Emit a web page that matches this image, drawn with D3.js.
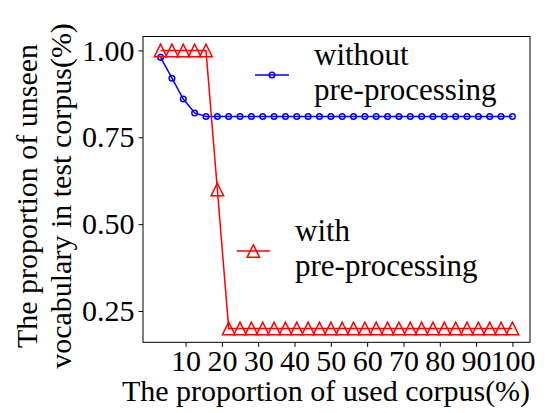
<!DOCTYPE html>
<html>
<head>
<meta charset="utf-8">
<script src="https://cdn.jsdelivr.net/npm/d3@7"></script>
<style>
  html, body { margin: 0; padding: 0; background: #fff; }
  svg { display: block; }
  text { font-family: "Liberation Serif", "Times New Roman", serif; fill: #000; }
</style>
</head>
<body>
<svg id="chart" width="554" height="413"></svg>
<script>
// ---- data ----
const xValues = d3.range(1, 33).map(k => 100 * k / 32); // 32 corpus proportions
const withoutPre = [0.98, 0.92, 0.86, 0.82, 0.81, 0.81, 0.81, 0.81, 0.81, 0.81, 0.81, 0.81, 0.81, 0.81, 0.81, 0.81,
                    0.81, 0.81, 0.81, 0.81, 0.81, 0.81, 0.81, 0.81, 0.81, 0.81, 0.81, 0.81, 0.81, 0.81, 0.81, 0.81];
const withPre = [1.0, 1.0, 1.0, 1.0, 1.0, 0.6, 0.2, 0.2, 0.2, 0.2, 0.2, 0.2, 0.2, 0.2, 0.2, 0.2,
                 0.2, 0.2, 0.2, 0.2, 0.2, 0.2, 0.2, 0.2, 0.2, 0.2, 0.2, 0.2, 0.2, 0.2, 0.2, 0.2];
const xTicks = [10, 20, 30, 40, 50, 60, 70, 80, 90, 100];
const yTicks = [0.25, 0.50, 0.75, 1.00];
const seriesNames = ["without\npre-processing", "with\npre-processing"];
const xLabel = "The proportion of used corpus(%)";
const yLabelLines = ["The proportion of unseen", "vocabulary in test corpus(%)"];

// ---- layout ----
const svg = d3.select("#chart");
const L = 143, T = 36.5, R = 530, B = 342.3;
const FS = 30, LFS = 31;

const x = d3.scaleLinear().domain([-1.72, 104.84]).range([L, R]);
const y = d3.scaleLinear().domain([0.16, 1.04]).range([B, T]);

// axes
const xAxis = d3.axisBottom(x).tickValues(xTicks).tickSize(4.5).tickPadding(3).tickFormat(d3.format("d"));
const yAxis = d3.axisLeft(y).tickValues(yTicks).tickSize(4.5).tickPadding(4).tickFormat(d3.format(".2f"));

const gx = svg.append("g").attr("transform", `translate(0,${B})`).call(xAxis);
const gy = svg.append("g").attr("transform", `translate(${L},0)`).call(yAxis);
[gx, gy].forEach(g => {
  g.select(".domain").remove();
  g.selectAll(".tick line").attr("stroke", "#000").attr("stroke-width", 1);
  g.selectAll(".tick text").style("font-size", FS + "px").style("font-family", '"Liberation Serif", serif').attr("fill", "#000");
});

// frame
svg.append("rect").attr("x", L).attr("y", T).attr("width", R - L).attr("height", B - T)
  .attr("fill", "none").attr("stroke", "#000").attr("stroke-width", 1);

// lines
const line = d3.line().x(d => x(d[0])).y(d => y(d[1]));
const blueData = xValues.map((v, i) => [v, withoutPre[i]]);
const redData = xValues.map((v, i) => [v, withPre[i]]);

svg.append("path").datum(blueData).attr("d", line).attr("fill", "none").attr("stroke", "#0000ff").attr("stroke-width", 1.5);
svg.append("g").selectAll("circle").data(blueData).join("circle")
  .attr("cx", d => x(d[0])).attr("cy", d => y(d[1])).attr("r", 2.8)
  .attr("fill", "none").attr("stroke", "#0000ff").attr("stroke-width", 1.5);

const tri = s => `M0,${-s/2}L${-s/2},${s/2}L${s/2},${s/2}Z`;
svg.append("path").datum(redData).attr("d", line).attr("fill", "none").attr("stroke", "#ff0000").attr("stroke-width", 1.5);
svg.append("g").selectAll("path").data(redData).join("path")
  .attr("d", tri(12.5)).attr("transform", d => `translate(${x(d[0])},${y(d[1])})`)
  .attr("fill", "none").attr("stroke", "#ff0000").attr("stroke-width", 1.5);

// legends
const LINE_GAP = 34.8;
function legendEntry(lx1, lx2, ly, tx, ty, color, marker, label) {
  const g = svg.append("g");
  g.append("line").attr("x1", lx1).attr("x2", lx2).attr("y1", ly).attr("y2", ly)
    .attr("stroke", color).attr("stroke-width", 1.5);
  const cx = (lx1 + lx2) / 2;
  if (marker === "circle") {
    g.append("circle").attr("cx", cx).attr("cy", ly).attr("r", 2.8)
      .attr("fill", "none").attr("stroke", color).attr("stroke-width", 1.5);
  } else {
    g.append("path").attr("d", tri(12.5)).attr("transform", `translate(${cx},${ly})`)
      .attr("fill", "none").attr("stroke", color).attr("stroke-width", 1.5);
  }
  label.split("\n").forEach((s, i) => {
    g.append("text").attr("x", tx).attr("y", ty + i * LINE_GAP).style("font-size", LFS + "px").text(s);
  });
}
legendEntry(255, 289, 75, 314, 64.8, "#0000ff", "circle", seriesNames[0]);
legendEntry(236.7, 270, 251, 295, 241.3, "#ff0000", "triangle", seriesNames[1]);

// axis labels
svg.append("text").attr("x", 326).attr("y", 401).attr("text-anchor", "middle")
  .style("font-size", FS + "px").text(xLabel);
const cy = 196;
[37, 71].forEach((bx, i) => {
  svg.append("text").attr("transform", `translate(${bx},${cy}) rotate(-90)`).attr("text-anchor", "middle")
    .style("font-size", FS + "px").text(yLabelLines[i]);
});
</script>
</body>
</html>
